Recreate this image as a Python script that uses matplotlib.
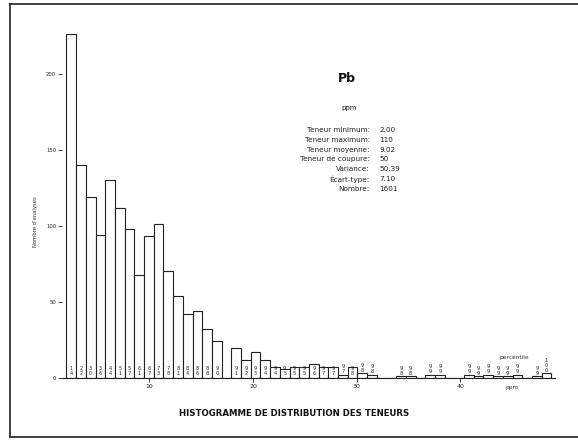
import matplotlib
matplotlib.use("Agg")
import matplotlib.pyplot as plt
from matplotlib.lines import Line2D

# ---- data ----
counts = [226, 140, 119, 94, 130, 112, 98, 68, 93, 101, 70, 54, 42, 44, 32, 24,
          0, 20, 12, 17, 12, 7, 6, 7, 7, 9, 7, 7, 2, 7, 3, 2,
          0, 0, 1, 1, 0, 2, 2, 0, 0, 2, 1, 2, 1, 1, 2, 0, 1, 3]
percentiles = ["14", "22", "30", "36", "44", "51", "57", "61", "67", "73", "78", "81", "84", "86", "88", "90",
               "", "91", "92", "93", "94", "94", "95", "95", "95", "96", "97", "97", "97", "98", "98", "98",
               "", "", "98", "98", "", "99", "99", "", "", "99", "99", "99", "99", "99", "99", "", "99", "100"]
x_ticks = [10, 20, 30, 40]
y_ticks = [0, 50, 100, 150, 200]
stat_names = ["Teneur minimum:", "Teneur maximum:", "Teneur moyenne:", "Teneur de coupure:",
              "Variance:", "Écart-type:", "Nombre:"]
stat_values = ["2.00", "110", "9.02", "50", "50.39", "7.10", "1601"]
element = "Pb"
title = "HISTOGRAMME DE DISTRIBUTION DES TENEURS"
ylabel = "Nombre d'analyses"

# ---- layout / style ----
W, H = 578, 441
START = 2.0
BIN_W = 0.936
FONT = "DejaVu Sans"
plt.rcParams["font.family"] = [FONT]

fig = plt.figure(figsize=(W / 100, H / 100), dpi=100)
fig.patch.set_facecolor("white")

def fx(px):
    return px / W

def fy(py):
    return 1 - py / H

ax = fig.add_axes([fx(62.3), 63 / H, 492.7 / W, 350 / H])
lefts = [START + BIN_W * j for j in range(len(counts))]
ax.bar(lefts, counts, width=BIN_W, align="edge", color="white",
       edgecolor="#222222", linewidth=0.8)
for x0, c, lab in zip(lefts, counts, percentiles):
    if not lab:
        continue
    ypos = c + 0.6 if c <= 3 else 1.2
    ax.text(x0 + BIN_W / 2, ypos, "\n".join(lab),
            ha="center", va="bottom", fontsize=3.6, linespacing=0.95, color="#222222")

ax.set_xlim(1.6, 49.15)
ax.set_ylim(0, 230)
for s in ["top", "right", "left"]:
    ax.spines[s].set_visible(False)
ax.spines["bottom"].set_linewidth(0.8)
ax.spines["bottom"].set_color("#222222")
ax.set_xticks(x_ticks)
ax.set_yticks(y_ticks)
ax.tick_params(axis="x", labelsize=4.5, length=3, width=0.6, pad=1.5, colors="#222222")
ax.tick_params(axis="y", labelsize=3.8, length=3, width=0.6, pad=1.5, colors="#222222")

fig.text(fx(35), fy(222), ylabel, rotation=90, ha="center", va="center",
         fontsize=3.8, color="#333333")
fig.text(fx(512), fy(387), "ppm", ha="center", va="center", fontsize=4.2, color="#333333")
fig.text(fx(514), fy(358), "percentile", ha="center", va="center", fontsize=4.2, color="#333333")

fig.text(fx(347), fy(79), element, ha="center", va="center", fontsize=9,
         fontweight="bold", color="#111111")
fig.text(fx(349), fy(108), "ppm", ha="center", va="center", fontsize=5, color="#222222")
line_y0, line_dy = 130, 9.8
for i, (n, v) in enumerate(zip(stat_names, stat_values)):
    y = fy(line_y0 + i * line_dy)
    fig.text(fx(370), y, n, ha="right", va="center", fontsize=5.2, color="#222222")
    fig.text(fx(379.5), y, v, ha="left", va="center", fontsize=5.2, color="#222222")

fig.text(fx(294), fy(413), title, ha="center", va="center", fontsize=6.2,
         fontweight="bold", color="#111111")

frame = dict(color="#333333", linewidth=1.3, transform=fig.transFigure)
fig.add_artist(Line2D([fx(10), fx(10)], [fy(4), fy(437)], **frame))
fig.add_artist(Line2D([fx(10), 1.0], [fy(4), fy(4)], **frame))
fig.add_artist(Line2D([fx(10), 1.0], [fy(437), fy(437)], **frame))

fig.savefig("out.png", dpi=100, facecolor="white")
